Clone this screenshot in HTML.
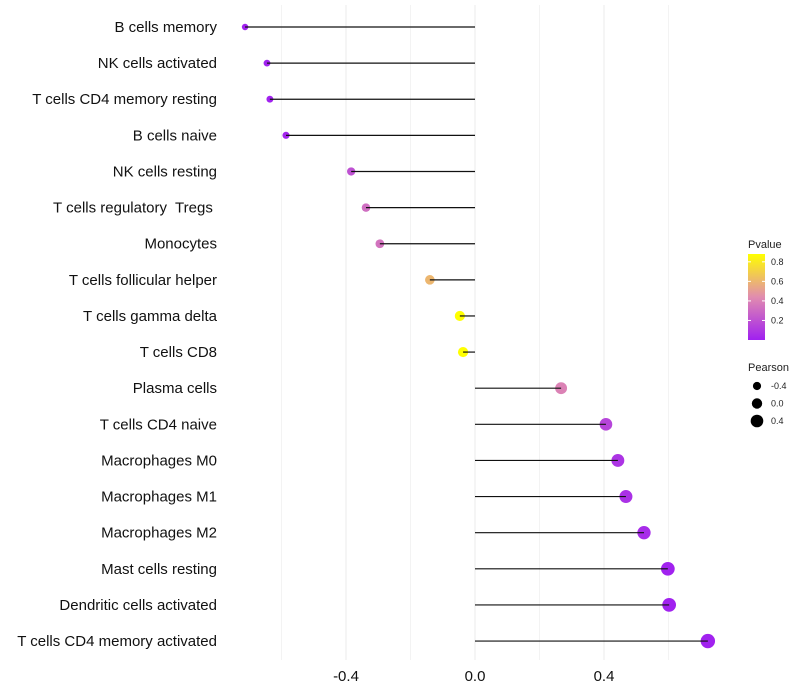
<!DOCTYPE html>
<html><head><meta charset="utf-8"><style>body{margin:0;background:#fff}svg{display:block;font-family:"Liberation Sans",sans-serif}</style></head>
<body>
<svg id="chart" width="800" height="700"></svg>
<script>
const categories=["B cells memory","NK cells activated","T cells CD4 memory resting","B cells naive","NK cells resting","T cells regulatory  Tregs ","Monocytes","T cells follicular helper","T cells gamma delta","T cells CD8","Plasma cells","T cells CD4 naive","Macrophages M0","Macrophages M1","Macrophages M2","Mast cells resting","Dendritic cells activated","T cells CD4 memory activated"];
const pearson=[-0.713,-0.645,-0.636,-0.586,-0.384,-0.338,-0.295,-0.14,-0.047,-0.037,0.267,0.406,0.443,0.468,0.524,0.598,0.602,0.722];
const pvalues=[0.01,0.01,0.01,0.02,0.2,0.32,0.34,0.6,0.88,0.88,0.4,0.15,0.08,0.07,0.05,0.01,0.01,0.01];
const xTicks=[-0.4,0.0,0.4];
const xGrid=[-0.6,-0.2,0.2,0.6];
const pTicks=[0.2,0.4,0.6,0.8];
const sizeTicks=[-0.4,0.0,0.4];
const NS="http://www.w3.org/2000/svg";
const svg=document.getElementById('chart');
function mk(t,a,p){const e=document.createElementNS(NS,t);for(const k in a)e.setAttribute(k,a[k]);(p||svg).appendChild(e);return e;}
const x=v=>475+v*322.5;
const y=i=>27+i*36.12;
const pmin=0,pmax=0.88;
function col(p){const t=Math.max(0,Math.min(1,(p-pmin)/(pmax-pmin)));
 const a=[160,32,240],m=[225,140,175],b=[255,255,0];let c;
 if(t<0.5){const s=t/0.5;c=a.map((v,k)=>v+(m[k]-v)*s);}else{const s=(t-0.5)/0.5;c=m.map((v,k)=>v+(b[k]-v)*s);}
 return `rgb(${c.map(Math.round).join(',')})`;}
const r=v=>Math.max(1.8,3.2+(v+0.72)/1.44*4.0);
xGrid.concat(xTicks).forEach(v=>{const g=mk('line',{x1:x(v),x2:x(v),y1:5,y2:660,stroke:xTicks.includes(v)?'#ebebeb':'#f3f3f3','stroke-width':1});

});
xTicks.forEach(v=>{const t=mk('text',{x:x(v),y:681,'text-anchor':'middle','font-size':15,fill:'#111'});t.textContent=v.toFixed(1);

});
categories.forEach((c,i)=>{const t=mk('text',{x:217,y:y(i)+5,'text-anchor':'end','font-size':15,fill:'#111',style:'white-space:pre'});t.textContent=c;


const pt=mk('circle',{cx:x(pearson[i]),cy:y(i),r:r(pearson[i]),fill:col(pvalues[i])});


const ln=mk('line',{x1:x(0),x2:x(pearson[i]),y1:y(i),y2:y(i),stroke:'#111','stroke-width':1.2});

});
const lg=mk('g',{});


const tt=mk('text',{x:748,y:248,'font-size':11,fill:'#222'},lg);tt.textContent='Pvalue';
const defs=mk('defs',{});const gr=mk('linearGradient',{id:'pg',x1:0,y1:1,x2:0,y2:0},defs);
for(let k=0;k<=10;k++){mk('stop',{offset:k/10,'stop-color':col(pmin+(pmax-pmin)*k/10)},gr);}
mk('rect',{x:748,y:254,width:17,height:86,fill:'url(#pg)'},lg);
const cy=p=>340-(p-pmin)/(pmax-pmin)*86;
pTicks.forEach(p=>{mk('line',{x1:748,x2:751,y1:cy(p),y2:cy(p),stroke:'#fff'},lg);mk('line',{x1:762,x2:765,y1:cy(p),y2:cy(p),stroke:'#fff'},lg);
const t=mk('text',{x:771,y:cy(p)+3,'font-size':9,fill:'#222'},lg);t.textContent=p.toFixed(1);});
const sg=mk('g',{});


const st=mk('text',{x:748,y:371,'font-size':11,fill:'#222'},sg);st.textContent='Pearson';
sizeTicks.forEach((v,k)=>{const yy=386+k*17.5;mk('circle',{cx:757,cy:yy,r:r(v),fill:'#000'},sg);
const t=mk('text',{x:771,y:yy+3,'font-size':9,fill:'#222'},sg);t.textContent=v.toFixed(1);});
</script>
</body></html>
